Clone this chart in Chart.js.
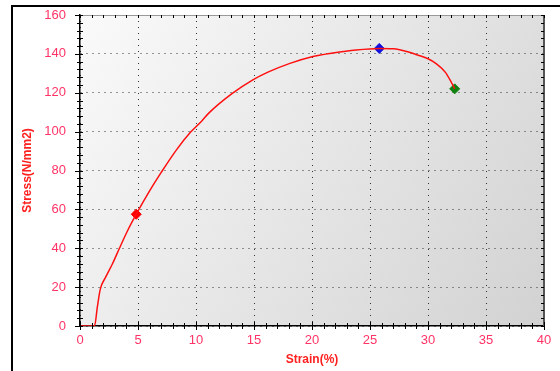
<!DOCTYPE html>
<html>
<head>
<meta charset="utf-8">
<script src="https://cdn.jsdelivr.net/npm/chart.js@4/dist/chart.umd.min.js"></script>
<style>
  html, body { margin: 0; padding: 0; background: #fff; }
  #wrap { width: 560px; height: 371px; position: relative; }
</style>
</head>
<body>
<div id="wrap"><canvas id="stressChart"></canvas></div>
<script>
// Stress-strain curve
var strain = [0, 1.25, 1.5, 1.75, 2.2, 2.8, 3.4, 4.1, 4.85, 6.0, 7.0, 8.3, 9.5, 10.5, 11.1, 13.1, 14.9, 16.2, 18.1, 20.0, 21.8, 23.8, 25.8, 27.0, 28.4, 29.1, 30.0, 30.7, 31.5, 32.0, 32.3];
var stress = [0, 0, 10, 19, 25, 32, 40, 49, 57.5, 69.5, 79, 90.5, 99.5, 105.5, 109.5, 119.5, 126.6, 130.6, 135.1, 138.5, 140.4, 142, 142.8, 142.6, 140.8, 139.4, 137.5, 135, 130.5, 125.5, 122];

// marked points
var markStrain = [4.85, 25.8, 32.3];
var markStress = [57.5, 142.8, 122];
var markColors = ['#ff0000', '#1010e0', '#108010'];

var xTicks = [0, 5, 10, 15, 20, 25, 30, 35, 40];
var yTicks = [0, 20, 40, 60, 80, 100, 120, 140, 160];

var curve = strain.map(function (s, i) { return { x: s, y: stress[i] }; });

var datasets = [{
    data: curve,
    showLine: true,
    borderColor: '#ff1010',
    borderWidth: 1.5,
    pointRadius: 0,
    cubicInterpolationMode: 'monotone'
}];
markStrain.forEach(function (s, i) {
    datasets.push({
        data: [{ x: s, y: markStress[i] }],
        pointStyle: 'rectRot',
        pointRadius: 5,
        backgroundColor: markColors[i],
        borderColor: markColors[i],
        borderWidth: 1
    });
});

// plot background, outer frame, borders and minor ticks
var decor = {
    id: 'decor',
    beforeDraw: function (chart) {
        var c = chart.ctx, a = chart.chartArea;
        c.save();
        var g = c.createLinearGradient(a.left, a.top, a.right, a.bottom);
        g.addColorStop(0, '#fafafa');
        g.addColorStop(1, '#d2d2d2');
        c.fillStyle = g;
        c.fillRect(a.left, a.top, a.right - a.left, a.bottom - a.top);
        // outer frame
        c.strokeStyle = '#000';
        c.lineWidth = 2;
        c.beginPath();
        c.moveTo(12, 371);
        c.lineTo(12, 6);
        c.lineTo(560, 6);
        c.stroke();
        c.restore();
    },
    afterDraw: function (chart) {
        var c = chart.ctx, a = chart.chartArea;
        var xs = chart.scales.x, ys = chart.scales.y;
        c.save();
        // top and right borders
        c.strokeStyle = '#999';
        c.lineWidth = 1;
        c.beginPath();
        c.moveTo(a.left, a.top + 0.5);
        c.lineTo(a.right, a.top + 0.5);
        c.stroke();
        c.strokeStyle = '#555';
        c.lineWidth = 2;
        c.beginPath();
        c.moveTo(a.right, a.top);
        c.lineTo(a.right, a.bottom);
        c.stroke();
        // ticks
        c.strokeStyle = '#000';
        c.lineWidth = 1;
        c.beginPath();
        for (var v = 0; v <= 40; v++) {
            var px = Math.round(xs.getPixelForValue(v)) + 0.5;
            var big = v % 5 === 0 ? 4 : 3;
            c.moveTo(px, a.bottom - big);
            c.lineTo(px, a.bottom + big);
            c.moveTo(px, a.top);
            c.lineTo(px, a.top + 3);
        }
        for (var w = 0; w <= 160; w += 4) {
            var py = Math.round(ys.getPixelForValue(w)) + 0.5;
            var big2 = w % 20 === 0 ? 5 : 3;
            c.moveTo(a.left - big2, py);
            c.lineTo(a.left + 3, py);
            c.moveTo(a.right - 3, py);
            c.lineTo(a.right, py);
        }
        c.stroke();
        c.restore();
    }
};

new Chart(document.getElementById('stressChart'), {
    type: 'scatter',
    data: { datasets: datasets },
    plugins: [decor],
    options: {
        responsive: true,
        maintainAspectRatio: false,
        animation: false,
        layout: { padding: { top: 15, right: 16, left: 20, bottom: 0 } },
        plugins: { legend: { display: false }, tooltip: { enabled: false } },
        scales: {
            x: {
                type: 'linear',
                min: 0, max: 40,
                afterFit: function (s) { s.height = 45; s.paddingLeft = 0; s.paddingRight = 0; },
                afterBuildTicks: function (s) { s.ticks = xTicks.map(function (v) { return { value: v }; }); },
                ticks: { color: '#ff3366', font: { family: 'Liberation Sans', size: 13 }, padding: 7, maxRotation: 0 },
                grid: { color: '#333', lineWidth: 1, drawTicks: false, tickLength: 0 },
                border: { color: '#000', width: 1.5, dash: [1, 5] },
                title: { display: true, text: 'Strain(%)', color: '#ff2020', font: { family: 'Liberation Sans', size: 12, weight: 'bold' }, padding: { top: 0 } }
            },
            y: {
                type: 'linear',
                min: 0, max: 160,
                afterFit: function (s) { s.width = 60; s.paddingTop = 0; s.paddingBottom = 0; },
                afterBuildTicks: function (s) { s.ticks = yTicks.map(function (v) { return { value: v }; }); },
                ticks: { color: '#ff3366', font: { family: 'Liberation Sans', size: 13 }, padding: 14 },
                grid: { color: '#333', lineWidth: 1, drawTicks: false, tickLength: 0 },
                border: { color: '#000', width: 1.5, dash: [1, 5] },
                title: { display: true, text: 'Stress(N/mm2)', color: '#ff2020', font: { family: 'Liberation Sans', size: 12, weight: 'bold' }, padding: { top: 0, bottom: 0 } }
            }
        }
    }
});
</script>
</body>
</html>
